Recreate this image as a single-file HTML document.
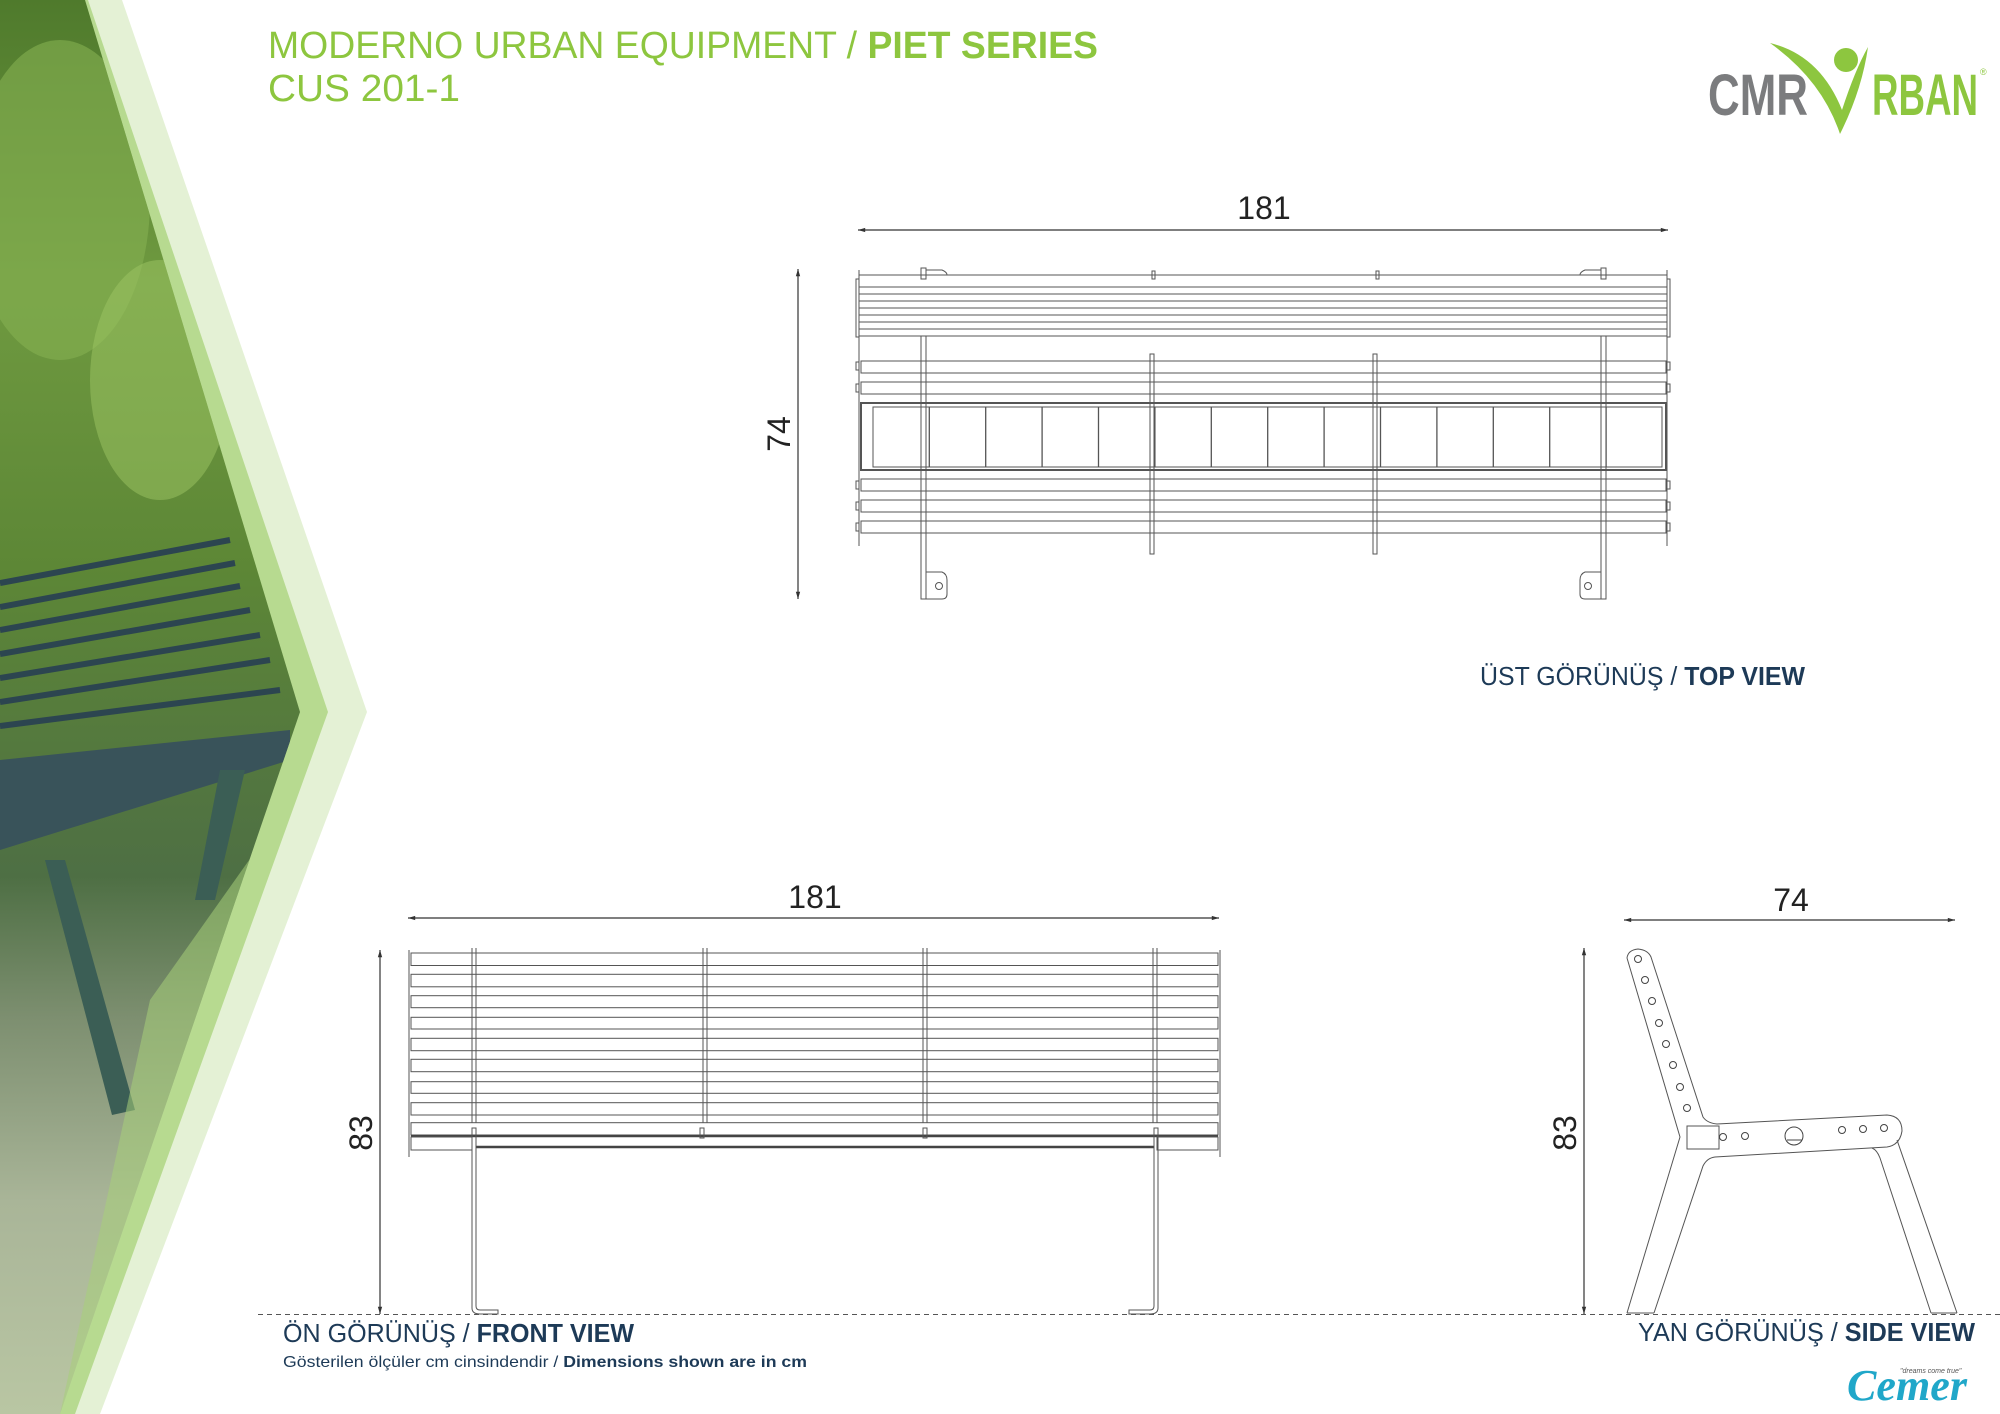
<!DOCTYPE html>
<html><head><meta charset="utf-8"><style>
html,body{margin:0;padding:0;background:#fff;}
svg{display:block;}
</style></head><body>
<svg width="2000" height="1414" viewBox="0 0 2000 1414" xmlns="http://www.w3.org/2000/svg">
<defs>
<linearGradient id="ph" x1="0" y1="0" x2="0" y2="1">
<stop offset="0" stop-color="#4f7a2c"/><stop offset="0.2" stop-color="#6f9a40"/>
<stop offset="0.4" stop-color="#5d8736"/><stop offset="0.62" stop-color="#4e6f44"/>
<stop offset="0.72" stop-color="#7d8f70"/><stop offset="0.85" stop-color="#a9b598"/>
<stop offset="1" stop-color="#b9c6a3"/></linearGradient>
<clipPath id="pc"><polygon points="0,0 85,0 300,712 60,1414 0,1414"/></clipPath>
<marker id="ar" viewBox="0 0 10 10" refX="10" refY="5" markerWidth="9" markerHeight="6" orient="auto-start-reverse"><path d="M0,2 L10,5 L0,8 z" fill="#333"/></marker>
</defs>
<rect width="2000" height="1414" fill="#fff"/>
<!-- left panel -->
<polygon points="0,0 122,0 367,712 100,1414 0,1414" fill="#e4f1d5"/>
<polygon points="0,0 88,0 328,712 75,1414 0,1414" fill="#b7da90"/>
<g clip-path="url(#pc)">
<rect x="0" y="0" width="320" height="1414" fill="url(#ph)"/>
<ellipse cx="60" cy="200" rx="90" ry="160" fill="#86b052" opacity="0.6"/>
<ellipse cx="160" cy="380" rx="70" ry="120" fill="#9dc564" opacity="0.5"/>
<g stroke="#2c4550" stroke-width="6">
<line x1="0" y1="583" x2="230" y2="540"/><line x1="0" y1="607" x2="235" y2="563"/>
<line x1="0" y1="630" x2="240" y2="586"/><line x1="0" y1="654" x2="250" y2="610"/>
<line x1="0" y1="678" x2="260" y2="635"/><line x1="0" y1="702" x2="270" y2="660"/>
<line x1="0" y1="726" x2="280" y2="690"/>
</g>
<polygon points="0,760 290,730 290,760 0,850" fill="#39535a"/>
<polygon points="45,860 65,860 135,1110 112,1115" fill="#3b5e55"/>
<polygon points="220,770 245,770 215,900 195,900" fill="#3b5e55"/>
<polygon points="150,1000 320,760 320,1414 60,1414" fill="#a8d07a" opacity="0.55"/>
</g>
<!-- title -->
<text x="268" y="58" font-family="Liberation Sans, sans-serif" font-size="38" fill="#8dc63f" textLength="830" lengthAdjust="spacingAndGlyphs">MODERNO URBAN EQUIPMENT / <tspan font-weight="bold">PIET SERIES</tspan></text>
<text x="268" y="101" font-family="Liberation Sans, sans-serif" font-size="38" fill="#8dc63f" textLength="192" lengthAdjust="spacingAndGlyphs">CUS 201-1</text>
<!-- logo -->
<text x="1708" y="115" font-family="Liberation Sans Narrow, Liberation Sans, sans-serif" font-size="58" font-weight="bold" fill="#7b7c7e" textLength="100" lengthAdjust="spacingAndGlyphs">CMR</text>
<path d="M1770,43 Q1820,55 1842,110 Q1855,70 1868,47 Q1862,90 1840,134 Q1822,80 1770,43 z" fill="#8dc63f"/>
<circle cx="1846" cy="60" r="12" fill="#8dc63f"/>
<text x="1872" y="115" font-family="Liberation Sans Narrow, Liberation Sans, sans-serif" font-size="58" font-weight="bold" fill="#8dc63f" textLength="106" lengthAdjust="spacingAndGlyphs">RBAN</text>
<text x="1980" y="75" font-family="Liberation Sans, sans-serif" font-size="9" fill="#8dc63f">®</text>

<g font-family="Liberation Sans, sans-serif" fill="#222">
<!-- TOP VIEW -->
<text x="1264" y="219" font-size="32" text-anchor="middle">181</text>
<line x1="858" y1="230" x2="1668" y2="230" stroke="#333" stroke-width="1.2" marker-start="url(#ar)" marker-end="url(#ar)"/>
<line x1="798" y1="269" x2="798" y2="599" stroke="#333" stroke-width="1.2" marker-start="url(#ar)" marker-end="url(#ar)"/>
<text transform="translate(790,434) rotate(-90)" font-size="32" text-anchor="middle">74</text>
</g>
<g fill="none" stroke="#555" stroke-width="1">
<line x1="859" y1="270" x2="859" y2="546"/><line x1="1667" y1="270" x2="1667" y2="546"/>
<path d="M859,275 H1667 M859,287 H1667 M859,294 H1667 M859,301 H1667 M859,308 H1667 M859,315 H1667 M859,322 H1667 M859,329 H1667 M859,336 H1667"/>
<rect x="861" y="361" width="805" height="12"/><rect x="861" y="382" width="805" height="12"/>
<rect x="861" y="479" width="805" height="12"/><rect x="861" y="500" width="805" height="12"/><rect x="861" y="521" width="805" height="12"/>
<rect x="861" y="403" width="805" height="67" stroke-width="2"/>
<rect x="873" y="407" width="789" height="60"/>
<path d="M929.3,407 V467 M985.7,407 V467 M1042.1,407 V467 M1098.5,407 V467 M1154.9,407 V467 M1211.3,407 V467 M1267.7,407 V467 M1324.1,407 V467 M1380.5,407 V467 M1436.9,407 V467 M1493.3,407 V467 M1549.7,407 V467 M1606.1,407 V467" stroke-width="1.3"/>
<rect x="921" y="336" width="5" height="263"/><rect x="1601" y="336" width="5" height="263"/>
<rect x="921" y="268" width="5" height="11"/><rect x="1601" y="268" width="5" height="11"/>
<path d="M926,270 H942 Q947,272 947,275 M1601,270 H1585 Q1580,272 1580,275"/>
<path d="M926,572 H942 Q947,574 947,580 V594 Q947,599 942,599 H926"/><circle cx="939" cy="586" r="3.5"/>
<path d="M1601,572 H1585 Q1580,574 1580,580 V594 Q1580,599 1585,599 H1601"/><circle cx="1588" cy="586" r="3.5"/>
<rect x="1150" y="354" width="4" height="200"/><rect x="1373" y="354" width="4" height="200"/>
<rect x="1152" y="271" width="3" height="8"/><rect x="1376" y="271" width="3" height="8"/>
<path d="M859,279 h-3 v58 h3 M1667,279 h3 v58 h-3 M859,362 h-3 v8 h3 M859,384 h-3 v8 h3 M859,481 h-3 v8 h3 M859,502 h-3 v8 h3 M859,523 h-3 v8 h3 M1667,362 h3 v8 h-3 M1667,384 h3 v8 h-3 M1667,481 h3 v8 h-3 M1667,502 h3 v8 h-3 M1667,523 h3 v8 h-3"/>
</g>
<text x="1480" y="685" font-family="Liberation Sans, sans-serif" font-size="26" fill="#1d3a57" textLength="325" lengthAdjust="spacingAndGlyphs">ÜST GÖRÜNÜŞ / <tspan font-weight="bold">TOP VIEW</tspan></text>

<!-- FRONT VIEW -->
<g font-family="Liberation Sans, sans-serif" fill="#222">
<text x="815" y="908" font-size="32" text-anchor="middle">181</text>
<line x1="408" y1="918" x2="1219" y2="918" stroke="#333" stroke-width="1.2" marker-start="url(#ar)" marker-end="url(#ar)"/>
<line x1="380" y1="950" x2="380" y2="1314" stroke="#333" stroke-width="1.2" marker-start="url(#ar)" marker-end="url(#ar)"/>
<text transform="translate(372,1133) rotate(-90)" font-size="32" text-anchor="middle">83</text>
</g>
<g fill="none" stroke="#555" stroke-width="1">
<line x1="409" y1="950" x2="409" y2="1157"/><line x1="1220" y1="950" x2="1220" y2="1157"/>
<path d="M472,948 V1123 M476,948 V1123 M703,948 V1123 M707,948 V1123 M923,948 V1123 M927,948 V1123 M1153,948 V1123 M1157,948 V1123"/>
<rect x="411" y="953" width="807" height="12.5"/><rect x="411" y="974.3" width="807" height="12.5"/>
<rect x="411" y="995.7" width="807" height="12"/><rect x="411" y="1017.3" width="807" height="11.7"/>
<rect x="411" y="1038.3" width="807" height="12.4"/><rect x="411" y="1059.3" width="807" height="12.4"/>
<rect x="411" y="1081.7" width="807" height="11.6"/><rect x="411" y="1102.7" width="807" height="12.3"/>
<rect x="411" y="1122.7" width="807" height="12.3"/>
<line x1="411" y1="1136" x2="1218" y2="1136" stroke="#444" stroke-width="2.5"/>
<line x1="476" y1="1147" x2="1154" y2="1147" stroke="#444" stroke-width="2.5"/>
<rect x="411" y="1137" width="61" height="13"/><rect x="1157" y="1137" width="61" height="13"/>
<path d="M472,1128 V1308 Q472,1314 480,1314 H498 V1310 H480 Q476,1310 476,1306 V1128 z"/>
<path d="M1158,1128 V1308 Q1158,1314 1150,1314 H1129 V1310 H1150 Q1154,1310 1154,1306 V1128 z"/>
<rect x="700" y="1128" width="4" height="10"/><rect x="923" y="1128" width="4" height="10"/>
</g>
<line x1="258" y1="1314.5" x2="2000" y2="1314.5" stroke="#555" stroke-width="1" stroke-dasharray="5,4"/>
<text x="283" y="1342" font-family="Liberation Sans, sans-serif" font-size="26" fill="#1d3a57" textLength="351" lengthAdjust="spacingAndGlyphs">ÖN GÖRÜNÜŞ / <tspan font-weight="bold">FRONT VIEW</tspan></text>
<text x="283" y="1367" font-family="Liberation Sans, sans-serif" font-size="16" fill="#1d3a57" textLength="524" lengthAdjust="spacingAndGlyphs">Gösterilen ölçüler cm cinsindendir / <tspan font-weight="bold">Dimensions shown are in cm</tspan></text>

<!-- SIDE VIEW -->
<g font-family="Liberation Sans, sans-serif" fill="#222">
<text x="1791" y="911" font-size="32" text-anchor="middle">74</text>
<line x1="1624" y1="920" x2="1955" y2="920" stroke="#333" stroke-width="1.2" marker-start="url(#ar)" marker-end="url(#ar)"/>
<line x1="1584" y1="948" x2="1584" y2="1314" stroke="#333" stroke-width="1.2" marker-start="url(#ar)" marker-end="url(#ar)"/>
<text transform="translate(1576,1133) rotate(-90)" font-size="32" text-anchor="middle">83</text>
</g>
<g fill="none" stroke="#555" stroke-width="1">
<path d="M1627,958 Q1628,950 1638,949 Q1648,950 1651,957 L1703,1117 Q1707,1123 1717,1124 L1887,1115 Q1902,1116 1902,1131 Q1900,1145 1887,1147 L1715,1157 Q1707,1158 1703,1166 L1654,1313 M1627,1313 L1680,1137 L1627,958"/>
<path d="M1897,1140 L1957,1313 M1931,1313 L1880,1158 Q1877,1150 1872,1148"/>
<path d="M1627,1313 H1654 M1931,1313 H1957"/>
<rect x="1687" y="1126" width="32" height="23"/>
<g stroke="#444">
<circle cx="1638" cy="959" r="3.5"/><circle cx="1645" cy="980" r="3.5"/><circle cx="1652" cy="1001" r="3.5"/><circle cx="1659" cy="1023" r="3.5"/>
<circle cx="1666" cy="1044" r="3.5"/><circle cx="1673" cy="1065" r="3.5"/><circle cx="1680" cy="1087" r="3.5"/><circle cx="1687" cy="1108" r="3.5"/>
<circle cx="1723" cy="1137" r="3.5"/><circle cx="1745" cy="1136" r="3.5"/><circle cx="1842" cy="1130" r="3.5"/><circle cx="1863" cy="1129" r="3.5"/><circle cx="1884" cy="1128" r="3.5"/>
<circle cx="1794" cy="1136" r="9"/><line x1="1787" y1="1140" x2="1802" y2="1140"/>
</g>
</g>
<text x="1975" y="1341" font-family="Liberation Sans, sans-serif" font-size="26" fill="#1d3a57" text-anchor="end" textLength="337" lengthAdjust="spacingAndGlyphs">YAN GÖRÜNÜŞ / <tspan font-weight="bold">SIDE VIEW</tspan></text>
<text x="1847" y="1400" font-family="Liberation Serif, serif" font-style="italic" font-weight="bold" font-size="44" fill="#20a7c9" textLength="120" lengthAdjust="spacingAndGlyphs">Cemer</text>
<text x="1900" y="1373" font-family="Liberation Sans, sans-serif" font-style="italic" font-size="7" fill="#555">"dreams come true"</text>
</svg>
</body></html>
